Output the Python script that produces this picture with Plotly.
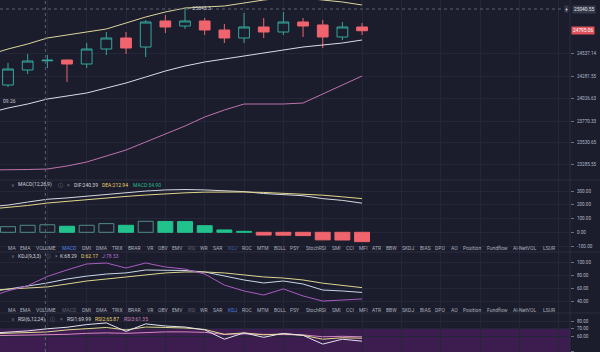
import plotly.graph_objects as go

# ---------------- data ----------------
candle_idx = list(range(19))
opens = [24181.7, 24351.2, 24455.0, 24464.3, 24419.0, 24588.5, 24712.8, 24611.0, 24905.0, 24848.4,
         24905.0, 24803.3, 24712.8, 24837.2, 24780.6, 24893.6, 24859.8, 24724.2, 24837.2]
highs = [24430.4, 24532.0, 24520.8, 24470.0, 24656.3, 24780.6, 24780.6, 24916.3, 24972.8, 25043.3,
         24938.9, 24871.0, 24995.4, 24938.9, 25006.6, 24938.9, 24916.3, 24893.6, 24882.3]
lows = [24159.2, 24306.0, 24373.9, 24215.6, 24373.9, 24520.8, 24532.0, 24498.2, 24769.4, 24814.6,
        24746.8, 24656.3, 24656.3, 24712.8, 24746.8, 24724.2, 24599.8, 24690.2, 24746.8]
closes = [24362.6, 24453.0, 24462.0, 24419.0, 24588.5, 24712.8, 24599.8, 24893.6, 24837.2, 24905.0,
          24803.3, 24712.8, 24837.2, 24780.6, 24893.6, 24848.4, 24724.2, 24837.2, 24795.06]

line_idx = list(range(-1, 19))
boll_up = [24520.8, 24588.5, 24645.0, 24712.8, 24746.8, 24780.6, 24814.6, 24882.3, 24950.2, 25006.6,
           25051.8, 25063.0, 25074.4, 25108.3, 25142.3, 25164.9, 25164.9, 25142.3, 25119.7, 25085.8]
boll_mb = [23865.3, 23921.8, 23967.0, 24023.5, 24057.4, 24091.3, 24147.8, 24204.3, 24272.1, 24339.9,
           24396.4, 24441.6, 24475.6, 24509.5, 24543.4, 24577.3, 24611.2, 24633.8, 24656.4, 24690.2]
boll_dn = [23221.3, 23221.3, 23226.9, 23232.6, 23266.5, 23311.7, 23379.5, 23447.3, 23537.6, 23628.0,
           23718.4, 23820.2, 23899.3, 23967.0, 23967.0, 23967.0, 23978.3, 24080.0, 24181.7, 24283.4]

macd_hist = [41, 51, 54.9, 44, 51, 63, 51, 80, 79, 78, 48, 17, 7, -20, -21, -24, -55, -56, -68]
dif = [185, 198, 220, 240.39, 250, 262, 278, 285, 300, 308, 311, 308, 301, 296, 282, 275, 266, 245, 232, 212]
dea = [168, 180, 195, 212.94, 226, 238, 250, 261, 271, 280, 287, 292, 294, 293, 290, 285, 278, 270, 258, 245]

k_vals = [54, 59, 64, 68.29, 74.5, 79, 82.3, 84, 88.6, 88.6, 87.8, 85.5, 79, 73, 68.3, 71.4, 66.7, 57.3, 55.8, 53.5]
d_vals = [57, 59, 60.5, 62.17, 66.7, 71.4, 74.5, 77.7, 80.8, 84, 85.5, 85.5, 84, 80.8, 77.7, 76, 73, 68, 64, 61]
j_vals = [46, 56, 64, 78.53, 88.6, 98, 99.5, 91.7, 99.5, 93.3, 90, 82.3, 65, 55.8, 49.5, 59, 48, 40, 41.7, 43.3]

rsi1 = [64, 65.3, 67.2, 69.99, 72, 75.5, 77.7, 66.5, 76.4, 73.6, 72.3, 68.5, 56.3, 64.6, 58.8, 64, 61.4, 49.9, 56.3, 53.7]
rsi2 = [63.3, 64, 65.3, 65.87, 68.5, 70.4, 71.7, 68.5, 72.3, 71.7, 71, 69.1, 62.7, 64.6, 62, 63.3, 61.4, 56.3, 58.2, 57.6]
rsi3 = [60.8, 61.2, 61.4, 61.35, 62.7, 64, 64.6, 64, 65.3, 65.9, 65.9, 65.3, 62.7, 63.3, 62.7, 62.7, 62, 59.5, 60.1, 59.5]

price_ticks = [24537.14, 24281.55, 24026.63, 23770.33, 23530.65, 23285.55]
macd_ticks = [300, 200, 100, 0, -100]
kdj_ticks = [100, 80, 60, 40]
rsi_ticks = [80, 70, 60, 40]

last_price = 24795.06
cross_price = 25040.55
high_mark = 25043.3
low_mark_text = "09.26"

tab_labels = ["MA", "EMA", "VOLUME", "MACD", "DMI", "DMA", "TRIX", "BRAR", "VR", "OBV", "EMV", "RSI",
              "WR", "SAR", "KDJ", "ROC", "MTM", "BOLL", "PSY", "StochRSI", "SMI", "CCI", "MFI", "ATR",
              "BBW", "SKDJ", "BIAS", "DPO", "AO", "Position", "Fundflow", "AI-NetVOL", "LSUR"]

# ---------------- layout helpers ----------------
W, H = 600, 352
BG = "#1b1d2d"
GRID = "#232739"
SEP = "#2c2f40"
TXT = "#b4b9c4"
FONT = "Roboto, DejaVu Sans, sans-serif"
AX_PX = 570

tab_px = [6.7, 19.3, 35, 61, 81, 95, 111, 126.7, 145.7, 156.7, 171, 186.7, 199.3, 212, 226.7, 240.7,
          255.7, 272.7, 289.3, 305, 331, 345, 357.7, 371, 385, 401, 419, 434.3, 450, 461.7, 486,
          512.3, 541.7]


def fx(px):
    return px / W


def fy(py):
    return 1 - py / H


fig = go.Figure()

# ---- main pane ----
fig.add_trace(go.Scatter(x=line_idx, y=boll_up, mode="lines", line=dict(color="#dcd59b", width=1),
                         yaxis="y", hoverinfo="skip"))
fig.add_trace(go.Scatter(x=line_idx, y=boll_mb, mode="lines", line=dict(color="#d9dbe4", width=1),
                         yaxis="y", hoverinfo="skip"))
fig.add_trace(go.Scatter(x=line_idx, y=boll_dn, mode="lines", line=dict(color="#bf72ad", width=1),
                         yaxis="y", hoverinfo="skip"))
fig.add_trace(go.Candlestick(
    x=candle_idx, open=opens, high=highs, low=lows, close=closes,
    increasing=dict(line=dict(color="#35a79b", width=1), fillcolor="rgba(0,0,0,0)"),
    decreasing=dict(line=dict(color="#f0646e", width=1), fillcolor="#f0646e"),
    whiskerwidth=0, yaxis="y", hoverinfo="skip"))

# ---- MACD pane ----
bar_fill, bar_line = [], []
for i, v in enumerate(macd_hist):
    rising = i == 0 or v >= macd_hist[i - 1]
    if v >= 0:
        if rising:
            bar_fill.append("rgba(0,0,0,0)")
            bar_line.append("#4f8c86")
        else:
            bar_fill.append("#22c28d")
            bar_line.append("#22c28d")
    else:
        if rising:
            bar_fill.append("rgba(0,0,0,0)")
            bar_line.append("#f0646e")
        else:
            bar_fill.append("#f0646e")
            bar_line.append("#f0646e")

fig.add_trace(go.Bar(x=candle_idx, y=macd_hist, marker=dict(color=bar_fill, line=dict(color=bar_line, width=1)),
                     yaxis="y2", hoverinfo="skip"))
fig.add_trace(go.Scatter(x=line_idx, y=dif, mode="lines", line=dict(color="#d6d8e0", width=1),
                         yaxis="y2", hoverinfo="skip"))
fig.add_trace(go.Scatter(x=line_idx, y=dea, mode="lines", line=dict(color="#e2d58a", width=1),
                         yaxis="y2", hoverinfo="skip"))

# ---- KDJ pane ----
fig.add_trace(go.Scatter(x=line_idx, y=k_vals, mode="lines", line=dict(color="#c9d6e6", width=1),
                         yaxis="y3", hoverinfo="skip"))
fig.add_trace(go.Scatter(x=line_idx, y=d_vals, mode="lines", line=dict(color="#ddd48e", width=1),
                         yaxis="y3", hoverinfo="skip"))
fig.add_trace(go.Scatter(x=line_idx, y=j_vals, mode="lines", line=dict(color="#a85cc0", width=1),
                         yaxis="y3", hoverinfo="skip"))

# ---- RSI pane ----
fig.add_trace(go.Scatter(x=line_idx, y=rsi3, mode="lines", line=dict(color="#d488c0", width=1),
                         yaxis="y4", hoverinfo="skip"))
fig.add_trace(go.Scatter(x=line_idx, y=rsi2, mode="lines", line=dict(color="#e2d98e", width=1),
                         yaxis="y4", hoverinfo="skip"))
fig.add_trace(go.Scatter(x=line_idx, y=rsi1, mode="lines", line=dict(color="#e4e2ee", width=1),
                         yaxis="y4", hoverinfo="skip"))

xr = [-8 / 19.67, (AX_PX - 8) / 19.67]


def yax(domain_px, rng, ticks, fmt):
    return dict(domain=[fy(domain_px[1]), fy(domain_px[0])], range=rng, side="right", anchor="x",
                tickvals=ticks, ticktext=[fmt.format(t) for t in ticks],
                showgrid=True, gridcolor=GRID, gridwidth=1, zeroline=False, showline=False,
                ticks="outside", ticklen=3, tickcolor="#6a6f7d", ticklabelstandoff=2,
                tickfont=dict(family=FONT, size=4.6, color=TXT), fixedrange=True)


shapes = []
# RSI band
shapes.append(dict(type="rect", xref="paper", yref="y4", x0=0, x1=fx(AX_PX), y0=30, y1=70,
                   fillcolor="#3d1c50", line=dict(width=0), layer="below"))
# separators
for py in [180, 252, 313]:
    shapes.append(dict(type="line", xref="paper", yref="paper", x0=0, x1=1, y0=fy(py), y1=fy(py),
                       line=dict(color=SEP, width=1)))
shapes.append(dict(type="line", xref="paper", yref="paper", x0=fx(AX_PX), x1=fx(AX_PX), y0=0, y1=1,
                   line=dict(color=SEP, width=1)))
# crosshair
shapes.append(dict(type="line", xref="x", yref="paper", x0=1.9, x1=1.9, y0=0, y1=1,
                   line=dict(color="#5d6272", width=1, dash="dot")))
shapes.append(dict(type="line", xref="paper", yref="y", x0=0, x1=fx(563), y0=cross_price, y1=cross_price,
                   line=dict(color="#5d6272", width=1, dash="dot")))

ann = []


def txt(s, px, py, color=TXT, size=5, anchor="left", bg=None):
    a = dict(text=s, x=fx(px), y=fy(py), xref="paper", yref="paper", xanchor=anchor, yanchor="middle",
             showarrow=False, font=dict(family=FONT, size=size, color=color), borderpad=0)
    if bg:
        a["bgcolor"] = bg
        a["borderpad"] = 1
    ann.append(a)


# tab rows
row1_colors = {"MACD": "#4f83e0", "RSI": "#5b5f6c", "KDJ": "#3f5f9a"}
row2_colors = {"MACD": "#5b5f6c", "RSI": "#5b5f6c", "KDJ": "#4f83e0"}
for lab, px in zip(tab_labels, tab_px):
    txt(lab, px, 248, row1_colors.get(lab, "#a9aeb9"))
    txt(lab, px, 310, row2_colors.get(lab, "#a9aeb9"))

# legends
GRAY = "#767b88"
WHITE = "#d2d5dc"
YEL = "#ecd36a"
for s, px, c in [("∨", 10, GRAY), ("MACD(12,26,9)", 16.7, WHITE), ("ⓘ", 56.7, GRAY), ("×", 66, GRAY),
                 ("DIF:240.39", 72.7, WHITE), ("DEA:212.94", 100.7, YEL), ("MACD:54.90", 131.7, "#25b886")]:
    txt(s, px, 185, c)
for s, px, c in [("∨", 10, GRAY), ("KDJ(9,3,3)", 16.7, WHITE), ("ⓘ", 45, GRAY), ("×", 54.3, GRAY),
                 ("K:68.29", 59.3, WHITE), ("D:62.17", 80, YEL), ("J:78.53", 100.7, "#b06ad0")]:
    txt(s, px, 256, c)
for s, px, c in [("∨", 10, GRAY), ("RSI(6,12,24)", 16.7, WHITE), ("ⓘ", 49.3, GRAY), ("×", 59.3, GRAY),
                 ("RSI1:69.99", 66, WHITE), ("RSI2:65.87", 94.3, YEL), ("RSI3:61.35", 122.7, "#cf7fb8")]:
    txt(s, px, 319, c)

# price markers
txt("– " + f"{high_mark}", 187, 8, "#c4c8d0")
txt(low_mark_text, 1.5, 101, "#c4c8d0")
ann.append(dict(text=f"{last_price:.2f}", x=fx(571), y=last_price, xref="paper", yref="y", xanchor="left",
                yanchor="middle", showarrow=False, bgcolor="#e0525c", borderpad=1,
                font=dict(family=FONT, size=4.8, color="#ffffff")))
ann.append(dict(text=f"{cross_price:.2f}", x=fx(572), y=cross_price, xref="paper", yref="y", xanchor="left",
                yanchor="middle", showarrow=False, bgcolor="#373b4b", borderpad=1,
                font=dict(family=FONT, size=4.8, color="#e0e2e8")))
ann.append(dict(text="+", x=fx(566), y=cross_price, xref="paper", yref="y", xanchor="center",
                yanchor="middle", showarrow=False, bgcolor="#373b4b", borderpad=0,
                font=dict(family=FONT, size=5, color="#e0e2e8")))

fig.update_layout(
    width=W, height=H, margin=dict(l=0, r=0, t=0, b=0),
    paper_bgcolor=BG, plot_bgcolor=BG, showlegend=False,
    boxgap=0.22, bargap=0.24,
    xaxis=dict(domain=[0, fx(AX_PX)], range=xr, tickvals=list(range(2, 30, 2)), showticklabels=False,
               ticks="", showgrid=True, gridcolor=GRID, zeroline=False, showline=False,
               rangeslider=dict(visible=False), fixedrange=True, anchor="y4"),
    yaxis=yax((0, 180), [23108.4, 25142.2], price_ticks, "{:.2f}"),
    yaxis2=yax((180, 252), [-143.3, 380.4], macd_ticks, "{:.2f}"),
    yaxis3=yax((252, 313), [21.4, 116.7], kdj_ticks, "{:.2f}"),
    yaxis4=yax((313, 352), [39.5, 90.7], rsi_ticks, "{:.2f}"),
    shapes=shapes, annotations=ann,
)

fig.write_html("out.html", config={"displayModeBar": False})
